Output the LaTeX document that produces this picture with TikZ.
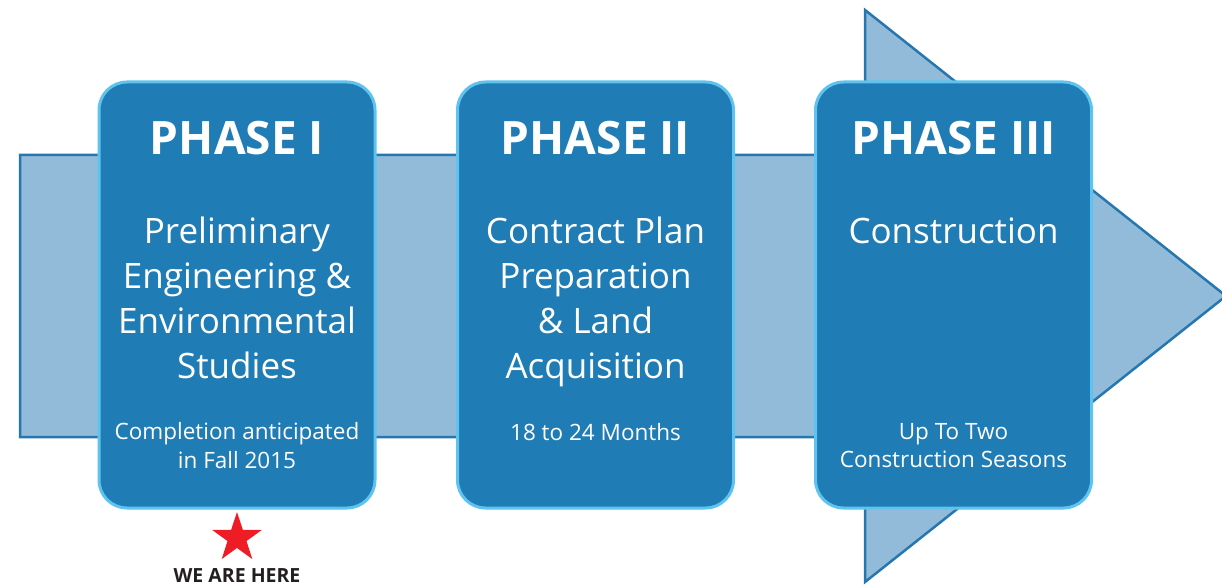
\documentclass[tikz,border=0pt]{standalone}
\usepackage{fontspec}
\setmainfont{Open Sans}
\usetikzlibrary{shapes.geometric}
\definecolor{arrowfill}{HTML}{92BBDA}
\definecolor{arrowline}{HTML}{2676B0}
\definecolor{boxfill}{HTML}{1F7CB5}
\definecolor{boxline}{HTML}{5EC3EE}
\definecolor{starred}{HTML}{EE1C25}
\definecolor{darktext}{HTML}{231F20}
\tikzset{
  bigarrow/.style={fill=arrowfill, draw=arrowline, line width=2.5pt, line join=miter},
  phasebox/.style={rectangle, rounded corners=28pt, fill=boxfill, draw=boxline, line width=3pt,
     minimum width=276pt, minimum height=426pt, inner sep=0pt},
  phasetitle/.style={text=white, font=\fontsize{46}{50}\selectfont\bfseries, inner sep=0pt},
  phasebody/.style={text=white, font=\fontsize{35}{45}\selectfont, align=center, inner sep=0pt},
  phasenote/.style={text=white, font=\fontsize{22.5}{28.5}\selectfont, align=center, inner sep=0pt},
  herestar/.style={star, star points=5, star point ratio=2.6, fill=starred, minimum size=52pt, inner sep=0pt},
  herelabel/.style={text=darktext, font=\fontsize{19.5}{22}\selectfont\bfseries, inner sep=0pt}
}
\begin{document}
\begin{tikzpicture}[x=1pt, y=-1pt]
\useasboundingbox (0,0) rectangle (1222,588);
% big arrow
\draw[bigarrow] (20,155) -- (865,155) -- (865,10) -- (1226,296) -- (865,582) -- (865,437) -- (20,437) -- cycle;
% boxes
\node[phasebox] (p1) at (237,295) {};
\node[phasebox] (p2) at (595.5,295) {};
\node[phasebox] (p3) at (953.5,295) {};
% titles
\node[phasetitle] (t1) at (237,138) {PHASE I};
\node[phasetitle] (t2) at (595.5,138) {PHASE II};
\node[phasetitle] (t3) at (953.5,138) {PHASE III};
% bodies
\node[phasebody] (b1) at (237,298) {Preliminary\\Engineering \&\\Environmental\\Studies};
\node[phasebody] (b2) at (595.5,302) {Contract Plan\\Preparation\\\& Land\\Acquisition};
\node[phasebody] (b3) at (953.5,231) {Construction};
% notes
\node[phasenote] (n1) at (237,445.5) {Completion anticipated\\in Fall 2015};
\node[phasenote] (n2) at (595.5,432) {18 to 24 Months};
\node[phasenote] (n3) at (953.5,445.5) {Up To Two\\Construction Seasons};
% we are here
\node[herestar] (star) at (237,538) {};
\node[herelabel] (here) at (237,576) {WE ARE HERE};
\end{tikzpicture}
\end{document}
